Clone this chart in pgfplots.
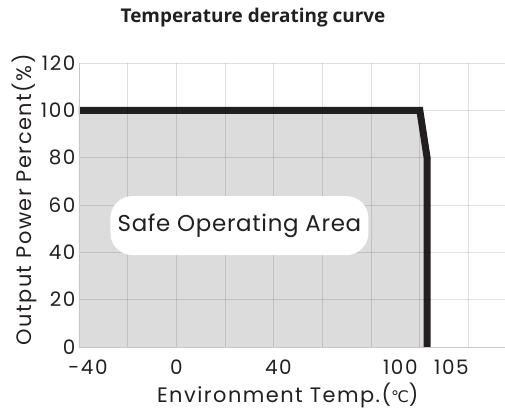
\documentclass[border=0pt]{standalone}
\usepackage{pgfplots}
\pgfplotsset{compat=1.18}
\usepackage{fontspec}
\setmainfont{Poppins}
\newfontfamily\tickfont[LetterSpace=8]{Poppins}
\newfontfamily\labfont[LetterSpace=7]{Poppins}
\newfontfamily\boxfont[LetterSpace=3]{Poppins}
\newfontfamily\titlefont{Open Sans}
\newfontfamily\dejavu{DejaVu Sans}
\definecolor{fillgray}{RGB}{220,220,220}
\definecolor{curvecol}{RGB}{35,31,32}
\definecolor{txt}{RGB}{35,31,32}
\begin{document}
\begin{tikzpicture}
\path[use as bounding box] (-79bp,-62bp) rectangle (426bp,347bp);
\begin{axis}[
  at={(0,0)}, anchor=south west,
  scale only axis, width=426bp, height=284bp,
  xmin=-40, xmax=135, ymin=0, ymax=120,
  xtick={-40,-20,...,120}, xticklabels={},
  ytick={0,20,...,120},
  /pgf/number format/assume math mode=true,
  grid=major, grid style={black, opacity=0.12, line width=0.8bp},
  major tick length=0,
  axis x line*=bottom, axis y line*=left,
  axis line style={-, draw=black!22, line width=0.8bp},
  axis on top,
  yticklabel style={font=\tickfont\fontsize{20}{20}\selectfont, text=txt, xshift=0bp},
  extra x ticks={-36.3,0,41.9,92,113},
  extra x tick labels={-40,0,40,100,105},
  extra x tick style={grid=none, major tick length=0},
  xticklabel style={font=\tickfont\fontsize{20}{20}\selectfont, text=txt, yshift=-9bp},
  xlabel={Environment Temp.({\dejavu\fontsize{16}{16}\selectfont ℃})},
  xlabel style={font=\labfont\fontsize{21}{21}\selectfont, text=txt, at={(axis description cs:0.49,-0.169)}, anchor=center},
  ylabel={Output Power Percent(\%)},
  ylabel style={font=\labfont\fontsize{21}{21}\selectfont, text=txt, at={(axis description cs:-0.127,0.518)}, anchor=center},
]
\addplot[fill=fillgray, draw=none] coordinates {(-40,100)(100,100)(103,80)(103,0)} \closedcycle;
\addplot[line width=7bp, color=curvecol, line join=miter] coordinates {(-40,100)(100,100)(103,80)(103,-5)};
\coordinate (box) at (axis cs:25.9,51.3);
\end{axis}
\node[fill=white, rounded corners=22bp, minimum width=258bp, minimum height=59bp, inner sep=0pt, text=txt, font=\boxfont\fontsize{23}{23}\selectfont] at (box) {Safe Operating Area};
\node[font=\titlefont\bfseries\fontsize{19}{19}\selectfont, text=txt] at (174bp,329bp) {Temperature derating curve};
\end{tikzpicture}
\end{document}
